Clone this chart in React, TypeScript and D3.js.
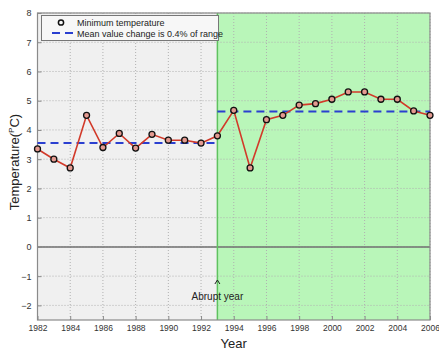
import * as d3 from "d3";
import { useEffect, useRef } from "react";

// data
const years = [1982, 1983, 1984, 1985, 1986, 1987, 1988, 1989, 1990, 1991, 1992, 1993, 1994,
  1995, 1996, 1997, 1998, 1999, 2000, 2001, 2002, 2003, 2004, 2005, 2006];
const minTemp = [3.35, 3.0, 2.7, 4.5, 3.4, 3.88, 3.38, 3.85, 3.65, 3.65, 3.55, 3.8, 4.67,
  2.7, 4.35, 4.5, 4.85, 4.9, 5.05, 5.3, 5.3, 5.05, 5.05, 4.65, 4.5];
const abruptYear = 1993;
const meanBefore = 3.55;
const meanAfter = 4.63;
const xTicks = [1982, 1984, 1986, 1988, 1990, 1992, 1994, 1996, 1998, 2000, 2002, 2004, 2006];
const yTicks = [-2, -1, 0, 1, 2, 3, 4, 5, 6, 7, 8];

const App = () => {
  const svgRef = useRef<SVGSVGElement>(null);

  useEffect(() => {
    const w = 439;
    const h = 352;
    const svg = d3.select(svgRef.current).attr("width", w).attr("height", h);
    svg.selectAll("*").remove();

    const x = d3.scaleLinear().domain([1982, 2006]).range([37.5, 430]);
    const y = d3.scaleLinear().domain([-2.5, 8]).range([320, 13]);
    const [x0, x1] = x.range();
    const [y0, y1] = y.range();
    const font = "'Liberation Sans', Arial, sans-serif";

    svg.append("rect").attr("width", w).attr("height", h).attr("fill", "#fff");

    // backgrounds
    svg.append("rect")
      .attr("x", x0).attr("y", y1)
      .attr("width", x(abruptYear) - x0).attr("height", y0 - y1)
      .attr("fill", "#f0f0f0");
    svg.append("rect")
      .attr("x", x(abruptYear)).attr("y", y1)
      .attr("width", x1 - x(abruptYear)).attr("height", y0 - y1)
      .attr("fill", "#b9f6b9");

    // grid
    const grid = svg.append("g").attr("stroke", "#b0b0b0").attr("stroke-width", 1).attr("stroke-dasharray", "1,2");
    xTicks.forEach(t => {
      grid.append("line").attr("x1", x(t)).attr("x2", x(t)).attr("y1", y1).attr("y2", y0);
    });
    yTicks.forEach(t => {
      grid.append("line").attr("x1", x0).attr("x2", x1).attr("y1", y(t)).attr("y2", y(t));
    });

    // zero line
    svg.append("line")
      .attr("x1", x0).attr("x2", x1).attr("y1", y(0)).attr("y2", y(0))
      .attr("stroke", "#707070").attr("stroke-width", 1.5);

    // abrupt year line
    svg.append("line")
      .attr("x1", x(abruptYear)).attr("x2", x(abruptYear)).attr("y1", y1).attr("y2", y0)
      .attr("stroke", "#5fc25f").attr("stroke-width", 1.5);

    // axes frame
    svg.append("rect")
      .attr("x", x0).attr("y", y1).attr("width", x1 - x0).attr("height", y0 - y1)
      .attr("fill", "none").attr("stroke", "#8a8a8a").attr("stroke-width", 1.2);

    // tick labels
    const xAxis = d3.axisBottom(x).tickValues(xTicks).tickFormat(d3.format("d")).tickSize(-4).tickPadding(5);
    const gx = svg.append("g").attr("transform", `translate(0,${y0})`).call(xAxis);
    gx.select(".domain").remove();
    gx.selectAll("line").attr("stroke", "#8a8a8a");
    gx.selectAll("text").attr("fill", "#333").style("font", `8.5px ${font}`);

    const yAxis = d3.axisLeft(y).tickValues(yTicks).tickSize(-4).tickPadding(6);
    const gy = svg.append("g").attr("transform", `translate(${x0},0)`).call(yAxis);
    gy.select(".domain").remove();
    gy.selectAll("line").attr("stroke", "#8a8a8a");
    gy.selectAll("text").attr("fill", "#333").style("font", `9px ${font}`);

    // mean lines
    const dash = svg.append("g").attr("stroke", "#2a3fd0").attr("stroke-width", 2).attr("stroke-dasharray", "8,5");
    dash.append("line").attr("x1", x(1982)).attr("x2", x(abruptYear)).attr("y1", y(meanBefore)).attr("y2", y(meanBefore));
    dash.append("line").attr("x1", x(abruptYear)).attr("x2", x(2006)).attr("y1", y(meanAfter)).attr("y2", y(meanAfter));

    // series
    const line = d3.line<number>().x((_, i) => x(years[i])).y(d => y(d));
    svg.append("path").datum(minTemp).attr("d", line)
      .attr("fill", "none").attr("stroke", "#d23a2a").attr("stroke-width", 1.6);
    svg.selectAll(".pt").data(minTemp).join("circle")
      .attr("cx", (_, i) => x(years[i])).attr("cy", d => y(d)).attr("r", 3)
      .attr("fill", "#e49a90").attr("stroke", "#111").attr("stroke-width", 1.3);

    // legend
    const lg = svg.append("g");
    lg.append("rect").attr("x", 41.5).attr("y", 15.5).attr("width", 177).attr("height", 25)
      .attr("fill", "#f7f7f7").attr("stroke", "#777").attr("stroke-width", 1);
    lg.append("circle").attr("cx", 61).attr("cy", 22.5).attr("r", 2.6)
      .attr("fill", "none").attr("stroke", "#111").attr("stroke-width", 1.5);
    lg.append("line").attr("x1", 52).attr("x2", 75).attr("y1", 33).attr("y2", 33)
      .attr("stroke", "#2a3fd0").attr("stroke-width", 2).attr("stroke-dasharray", "8,5");
    lg.append("text").attr("x", 77).attr("y", 26).attr("fill", "#222")
      .style("font", `9px ${font}`).text("Minimum temperature");
    lg.append("text").attr("x", 77).attr("y", 36.5).attr("fill", "#222")
      .style("font", `9px ${font}`).text("Mean value change is 0.4% of range");

    // abrupt year annotation
    const ax = x(abruptYear);
    svg.append("path").attr("d", `M${ax - 2.5},${284} L${ax},${280} L${ax + 2.5},${284}`)
      .attr("fill", "none").attr("stroke", "#222").attr("stroke-width", 1);
    svg.append("text").attr("x", ax).attr("y", 300).attr("text-anchor", "middle")
      .attr("fill", "#222").style("font", `10px ${font}`).text("Abrupt year");

    // axis titles
    svg.append("text").attr("x", (x0 + x1) / 2).attr("y", 348).attr("text-anchor", "middle")
      .attr("fill", "#222").style("font", `13px ${font}`).text("Year");
    const yt = svg.append("text").attr("transform", `translate(19,${162}) rotate(-90)`)
      .attr("text-anchor", "middle").attr("fill", "#222").style("font", `13px ${font}`);
    yt.append("tspan").text("Temperature(");
    yt.append("tspan").attr("dy", -5).style("font-size", "8px").text("P");
    yt.append("tspan").attr("dy", 5).text("C)");
  }, []);

  return (
    <svg ref={svgRef} style={{ position: "absolute", left: 0, top: 0 }}></svg>
  );
};

export default App;
